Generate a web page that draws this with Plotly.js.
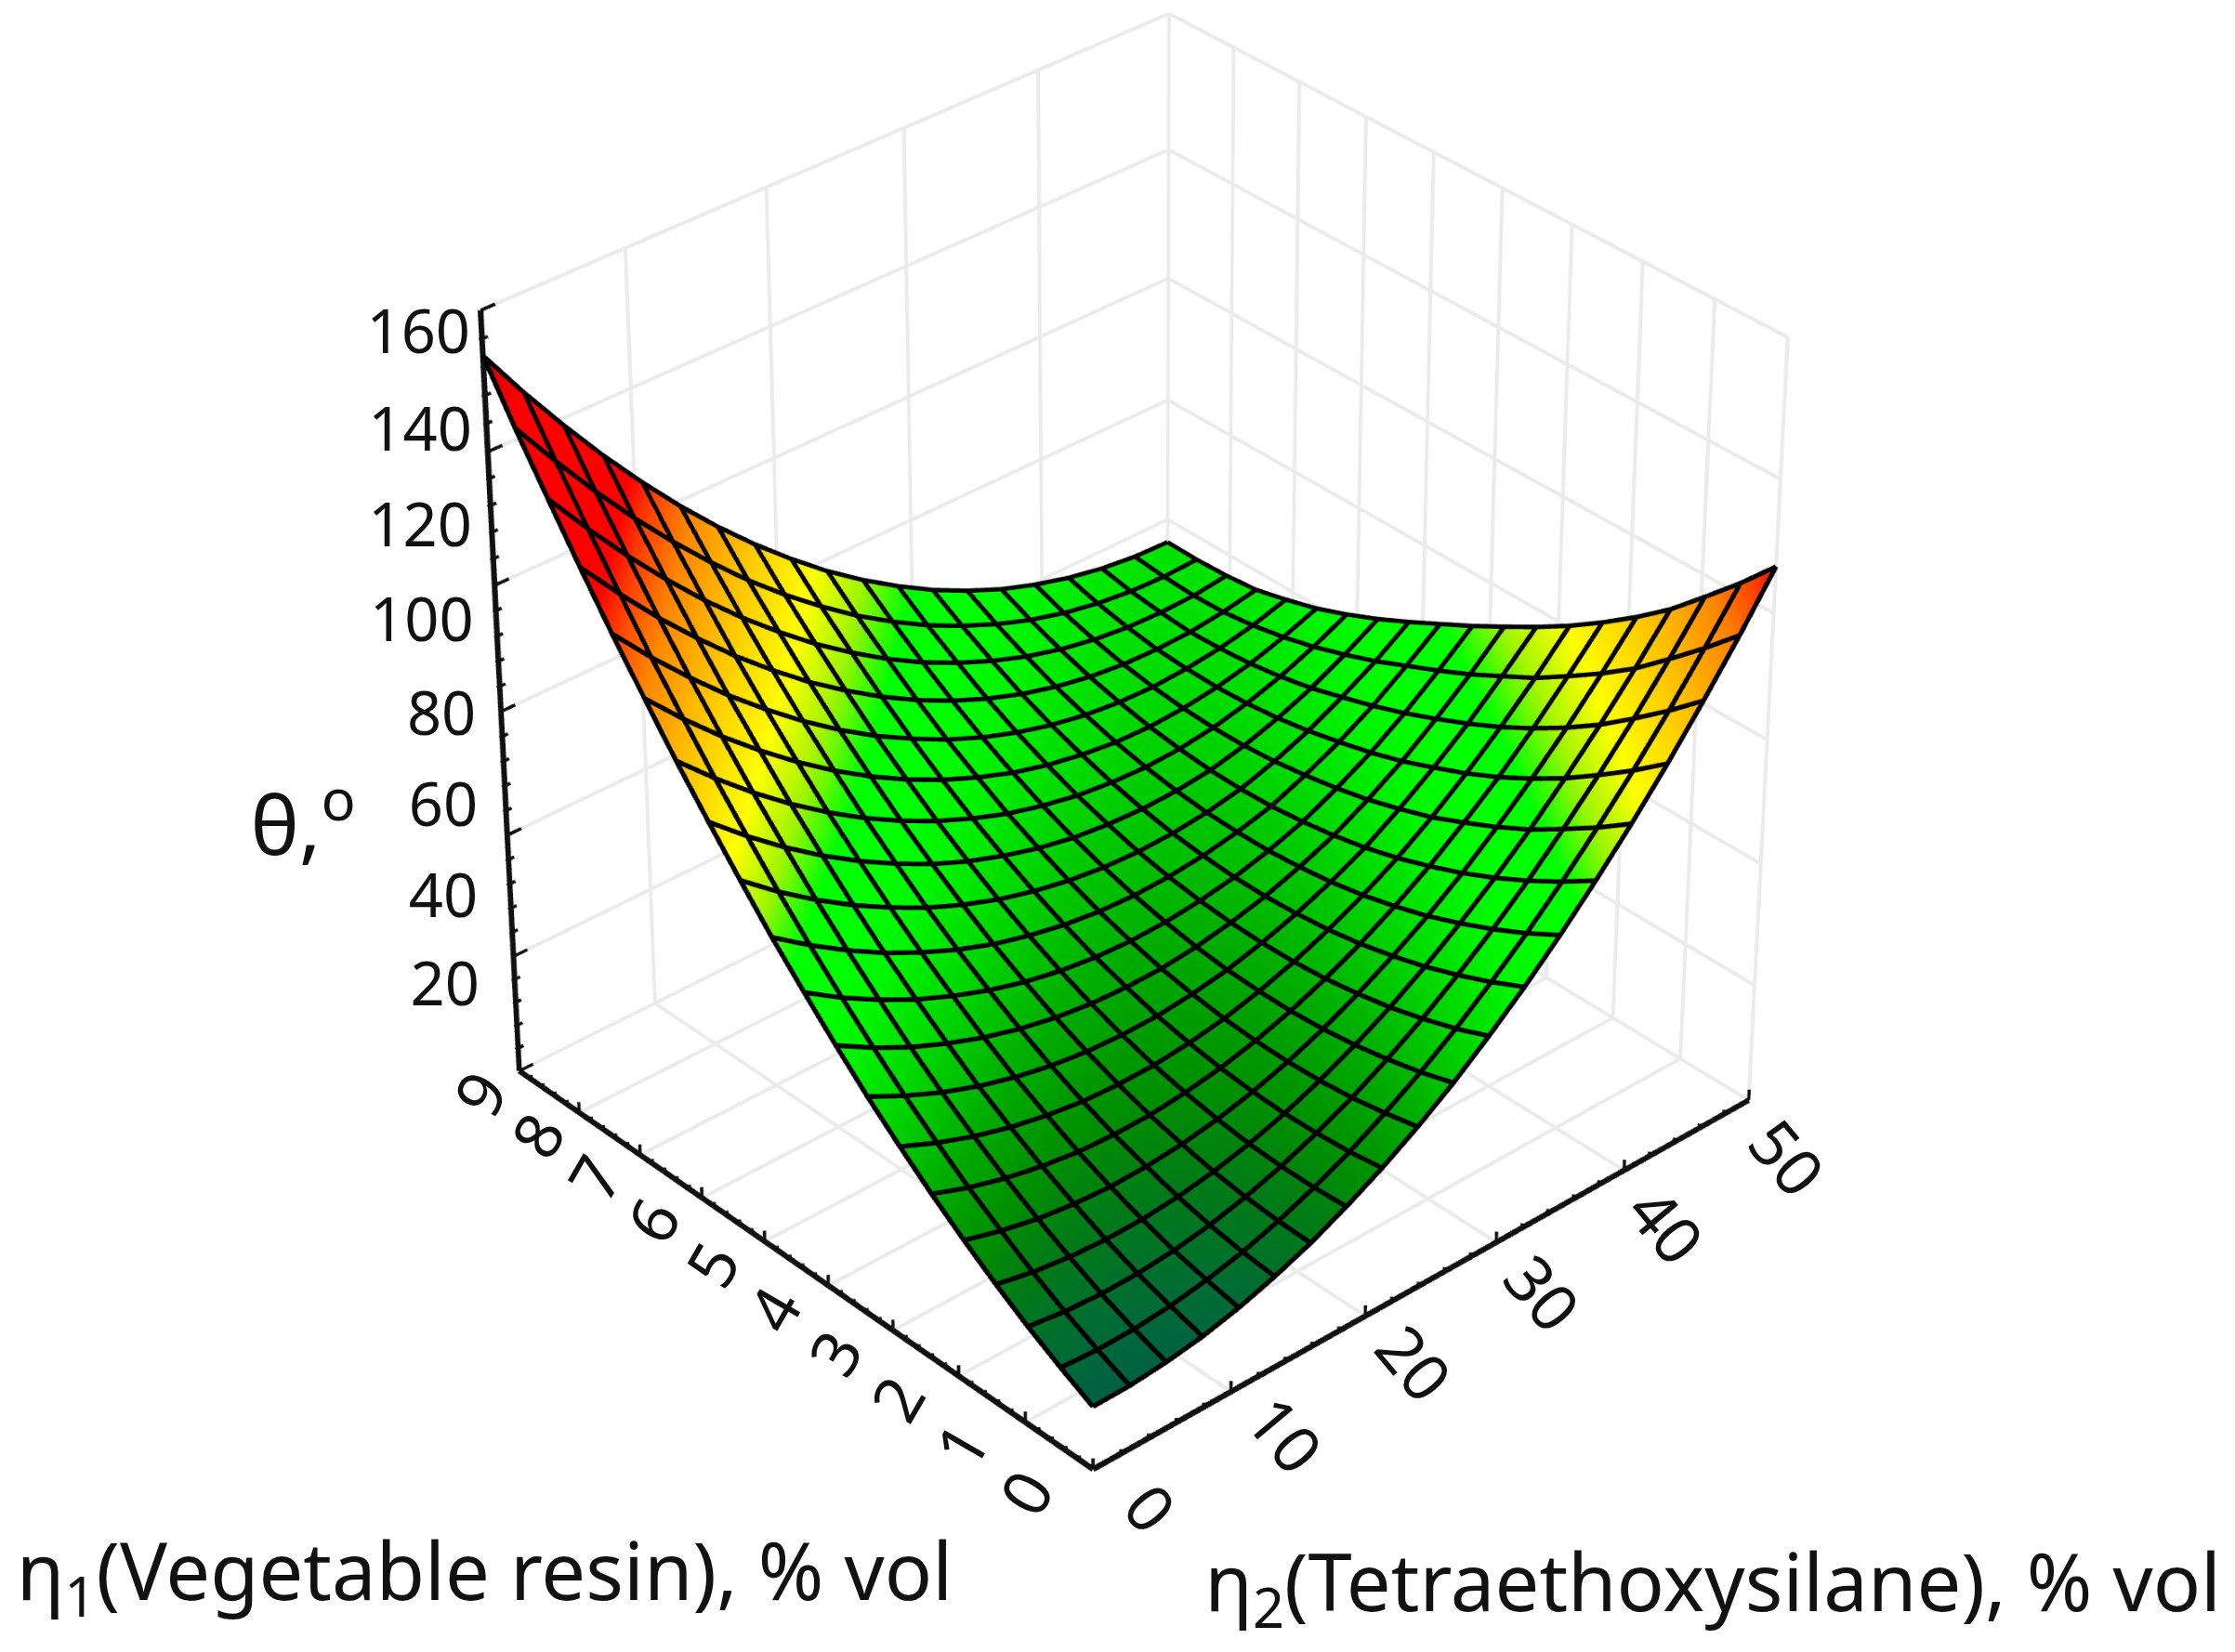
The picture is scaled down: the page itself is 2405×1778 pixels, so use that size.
<!DOCTYPE html>
<html><head><meta charset="utf-8">
<script src="https://cdn.plot.ly/plotly-3.0.1.min.js"></script>
<style>html,body{margin:0;padding:0;background:#fff;width:2405px;height:1778px;overflow:hidden}
#chart{position:absolute;transform-origin:0 0}</style></head>
<body><div id="chart"></div>
<script>
const eta2Nodes=[0,2.63,5.26,7.89,10.53,13.16,15.79,18.42,21.05,23.68,26.32,28.95,31.58,34.21,36.84,39.47,42.11,44.74,47.37,50];
const eta1Nodes=[0,0.47,0.95,1.42,1.89,2.37,2.84,3.32,3.79,4.26,4.74,5.21,5.68,6.16,6.63,7.11,7.58,8.05,8.53,9];
const thetaRows=[
[12.0,12.1,12.8,14.0,15.9,18.4,21.4,25.1,29.3,34.1,39.5,45.6,52.2,59.4,67.2,75.5,84.5,94.1,104.2,115.0],
[15.7,15.2,15.3,16.0,17.3,19.1,21.6,24.7,28.3,32.6,37.4,42.8,48.9,55.5,62.7,70.5,78.9,87.9,97.5,107.6],
[19.8,18.7,18.2,18.3,19.0,20.3,22.2,24.7,27.8,31.4,35.7,40.5,46.0,52.0,58.6,65.9,73.7,82.1,91.1,100.7],
[24.3,22.6,21.6,21.1,21.2,21.9,23.2,25.1,27.6,30.7,34.4,38.6,43.5,49.0,55.0,61.6,68.9,76.7,85.1,94.1],
[29.2,27.0,25.3,24.3,23.8,24.0,24.7,26.0,27.9,30.4,33.5,37.2,41.5,46.3,51.8,58.0,64.7,72.0,80.0,88.5],
[34.6,31.7,29.5,27.9,26.8,26.4,26.5,27.3,28.6,30.5,33.0,36.1,39.8,44.1,49.0,54.7,60.8,67.7,75.3,83.3],
[40.3,36.9,34.1,31.9,30.3,29.2,28.8,28.9,29.7,31.0,33.0,35.5,38.6,42.3,46.6,51.7,57.5,63.9,70.9,78.6],
[46.5,42.5,39.1,36.3,34.1,32.5,31.5,31.1,31.2,32.0,33.3,35.3,37.8,40.9,44.6,49.3,54.6,60.5,67.2,74.3],
[53.1,48.5,44.5,41.2,38.4,36.2,34.6,33.6,33.2,33.3,34.1,35.5,37.4,40.0,43.1,47.2,51.9,57.5,63.6,70.4],
[60.1,54.9,50.4,46.4,43.1,40.3,38.1,36.5,35.5,35.1,35.3,36.1,37.4,39.4,42.0,45.6,49.7,54.7,60.4,66.6],
[67.5,61.8,56.7,52.1,48.2,44.8,42.0,39.9,38.3,37.3,36.9,37.1,37.9,39.3,41.2,44.3,47.9,52.2,57.4,63.0],
[75.4,69.0,63.3,58.2,53.7,49.7,46.4,43.6,41.5,39.9,38.9,38.5,38.7,39.5,40.9,43.3,46.3,50.1,54.4,59.5],
[83.6,76.7,70.4,64.7,59.6,55.1,51.1,47.8,45.1,42.9,41.3,40.4,40.0,40.2,41.0,42.7,45.1,48.1,51.9,56.2],
[92.3,84.8,77.9,71.6,65.9,60.8,56.3,52.4,49.1,46.3,44.2,42.6,41.7,41.3,41.6,42.6,44.3,46.6,49.6,53.2],
[101.4,93.3,85.8,79.0,72.7,67.0,61.9,57.4,53.5,50.2,47.4,45.3,43.8,42.8,42.5,42.9,43.9,45.5,47.8,50.6],
[110.9,102.2,94.2,86.7,79.9,73.6,67.9,62.8,58.4,54.4,51.1,48.4,46.3,44.8,43.9,43.6,44.0,44.9,46.4,48.6],
[120.8,111.6,102.9,94.9,87.4,80.6,74.3,68.7,63.6,59.1,55.2,51.9,49.2,47.1,45.6,44.7,44.4,44.6,45.5,46.9],
[131.1,121.3,112.1,103.5,95.4,88.0,81.2,74.9,69.3,64.2,59.7,55.9,52.6,49.9,47.8,46.3,45.4,45.1,45.3,46.2],
[141.8,131.5,121.7,112.5,103.9,95.9,88.4,81.6,75.4,69.7,64.7,60.2,56.4,53.1,50.4,48.3,46.8,45.9,45.6,45.9],
[153.0,142.0,131.7,121.9,112.7,104.1,96.1,88.7,81.9,75.6,70.0,65.0,60.5,56.7,53.4,50.8,48.7,47.2,46.3,46.0]];

const eta2Ticks=[0,10,20,30,40,50];
const eta1Ticks=[0,1,2,3,4,5,6,7,8,9];
const thetaTicks=[-1.8,24.2,51.2,78.2,105.2,133.2,162.2];
const thetaLabels=[20,40,60,80,100,120,140,160];
const minorParts=5;

const colorLevels=[12,16,22,28,34,38,44,50,56,63,70,78,90,102,110,116,142,155];
const colorValues=['#005f45','#006b35','#007a18','#009000','#00ac00','#00c000','#00dc00','#00f400','#00ff00','#00ff00','#a0f500','#ffff00','#ffc400','#ff8800','#ff4000','#ff0000','#ff0000','#c80000'];

const thetaFloor=-1.8, thetaTop=162.2, eta2Max=50, eta1Max=9;
const zoom=1.811, centerX=1219, centerY=771;
const plotW=Math.round(2405/zoom), plotH=4000;
const offX=centerX-plotW*zoom/2, offY=centerY-plotH*zoom/2;
const box=document.getElementById('chart');
box.style.left=offX+'px';box.style.top=offY+'px';box.style.transform='scale('+zoom+')';
const paperX=px=>(px-offX)/(plotW*zoom);
const paperY=py=>1-(py-offY)/(plotH*zoom);
const aspectBox=[1.05,1.03,1.055];
const eye=[-5.29,-5.85,5.16];
const margin=1.4;
const pxUnit=1/930;

const lows=[0,0,thetaFloor];
const spans=[eta2Max,eta1Max,thetaTop-thetaFloor];
const toBox=p=>p.map((v,i)=>(v-lows[i]-spans[i]/2)*aspectBox[i]/spans[i]);
const fromBox=b=>b.map((v,i)=>v*spans[i]/aspectBox[i]+spans[i]/2+lows[i]);
const sub=(a,b)=>a.map((v,i)=>v-b[i]);
const unit=a=>{const n=Math.hypot(...a)||1;return a.map(v=>v/n);};
const cross=(a,b)=>[a[1]*b[2]-a[2]*b[1],a[2]*b[0]-a[0]*b[2],a[0]*b[1]-a[1]*b[0]];

function ribbonMesh(lines,widthPx,color,lift){
  const m={x:[],y:[],z:[],i:[],j:[],k:[]};
  const hw=widthPx*pxUnit/2;
  lines.forEach(line=>{
    const pts=line.map(toBox);
    const base=m.x.length;
    pts.forEach((p,n)=>{
      const t=unit(sub(pts[Math.min(n+1,pts.length-1)],pts[Math.max(n-1,0)]));
      const v=unit(sub(eye,p));
      const nrm=unit(cross(t,v));
      [1,-1].forEach(s=>{
        const q=fromBox(p.map((c,a)=>c+s*hw*nrm[a]+lift*v[a]));
        m.x.push(q[0]);m.y.push(q[1]);m.z.push(q[2]);
      });
      if(n<pts.length-1){
        const a=base+2*n;
        m.i.push(a,a+1);m.j.push(a+1,a+3);m.k.push(a+2,a+2);
      }
    });
  });
  return {type:'mesh3d',x:m.x,y:m.y,z:m.z,i:m.i,j:m.j,k:m.k,color:color,flatshading:true,hoverinfo:'skip',showscale:false,
    lighting:{ambient:1,diffuse:0,specular:0,fresnel:0,roughness:1}};
}
function minors(t){const o=[];for(let i=0;i<t.length-1;i++)for(let k=1;k<minorParts;k++)o.push(t[i]+(t[i+1]-t[i])*k/minorParts);return o;}

const meshLines=[];
eta1Nodes.forEach((y,r)=>meshLines.push(eta2Nodes.map((x,c)=>[x,y,thetaRows[r][c]])));
eta2Nodes.forEach((x,c)=>meshLines.push(eta1Nodes.map((y,r)=>[x,y,thetaRows[r][c]])));

const gridLines=[];
eta2Ticks.forEach(x=>{gridLines.push([[x,0,thetaFloor],[x,eta1Max,thetaFloor]]);gridLines.push([[x,eta1Max,thetaFloor],[x,eta1Max,thetaTop]]);});
eta1Ticks.forEach(y=>{gridLines.push([[0,y,thetaFloor],[eta2Max,y,thetaFloor]]);gridLines.push([[eta2Max,y,thetaFloor],[eta2Max,y,thetaTop]]);});
thetaTicks.forEach(z=>{gridLines.push([[0,eta1Max,z],[eta2Max,eta1Max,z]]);gridLines.push([[eta2Max,0,z],[eta2Max,eta1Max,z]]);});

const axisLines=[[[0,0,thetaFloor],[eta2Max,0,thetaFloor]],[[0,0,thetaFloor],[0,eta1Max,thetaFloor]],[[0,eta1Max,thetaFloor],[0,eta1Max,thetaTop]]];
const tickLines=[];
eta2Ticks.forEach(v=>tickLines.push([[v,0,thetaFloor],[v,0,thetaFloor+2.4]]));
minors(eta2Ticks).forEach(v=>tickLines.push([[v,0,thetaFloor-0.4],[v,0,thetaFloor+1.0]]));
eta1Ticks.forEach(v=>tickLines.push([[0,v,thetaFloor],[0,v,thetaFloor+2.4]]));
minors(eta1Ticks).forEach(v=>tickLines.push([[0,v,thetaFloor-0.4],[0,v,thetaFloor+1.0]]));
thetaTicks.forEach(v=>tickLines.push([[0,eta1Max,v],[1.0,eta1Max,v]]));
minors(thetaTicks).forEach(v=>tickLines.push([[-0.2,eta1Max,v],[0.4,eta1Max,v]]));

const fontFam='"Noto Sans","Open Sans",sans-serif';
const textFont=size=>({family:fontFam,size:size/zoom,color:'#111'});
const sceneNotes=[];
thetaLabels.forEach(v=>sceneNotes.push({x:0,y:eta1Max,z:v,text:String(v),showarrow:false,xanchor:'right',xshift:(-34+26*(v-20)/140)/zoom,yshift:-9/zoom,font:textFont(65)}));
eta1Ticks.forEach(v=>sceneNotes.push({x:0,y:v,z:thetaFloor,text:String(v),showarrow:false,textangle:-60,xshift:(-73+3.33*v)/zoom,yshift:-24/zoom,font:textFont(70)}));
eta2Ticks.forEach(v=>sceneNotes.push({x:v,y:0,z:thetaFloor,text:String(v),showarrow:false,textangle:50,xshift:(62-0.4*v)/zoom,yshift:(-41-0.42*v)/zoom,font:textFont(70)}));

const colorScale=[[0,colorValues[0]]].concat(colorLevels.map((l,i)=>[(l-thetaFloor)/(thetaTop-thetaFloor),colorValues[i]]),[[1,colorValues[colorValues.length-1]]]);

const data=[
{type:'surface',x:eta2Nodes,y:eta1Nodes,z:thetaRows,showscale:false,hoverinfo:'skip',
 cmin:thetaFloor,cmax:thetaTop,colorscale:colorScale,
 lighting:{ambient:1,diffuse:0,specular:0,fresnel:0,roughness:1},
 contours:{x:{highlight:false},y:{highlight:false},z:{highlight:false}}},
ribbonMesh(gridLines,4,'#ebebeb',0),
ribbonMesh(axisLines,6,'#111111',0.002),
ribbonMesh(tickLines,3.5,'#111111',0.002),
ribbonMesh(meshLines,5,'#000000',0.006)
];

const pad=(lo,s)=>[lo+s/2-s*margin/2,lo+s/2+s*margin/2];
const hiddenAxis=(lo,s)=>({visible:false,range:pad(lo,s),showspikes:false});
const layout={width:plotW,height:plotH,margin:{l:0,r:0,t:0,b:0},paper_bgcolor:'rgba(0,0,0,0)',showlegend:false,
 scene:{domain:{x:[0,1],y:[0,1]},
  xaxis:hiddenAxis(0,eta2Max),yaxis:hiddenAxis(0,eta1Max),zaxis:hiddenAxis(thetaFloor,thetaTop-thetaFloor),
  aspectmode:'manual',aspectratio:{x:aspectBox[0]*margin,y:aspectBox[1]*margin,z:aspectBox[2]*margin},
  camera:{eye:{x:eye[0],y:eye[1],z:eye[2]},center:{x:0,y:0,z:0},up:{x:0,y:0,z:1},projection:{type:'perspective'}},
  annotations:sceneNotes},
 annotations:[
  {xref:'paper',yref:'paper',x:paperX(327),y:paperY(881),xanchor:'center',yanchor:'middle',text:'θ,<sup>o</sup>',showarrow:false,font:textFont(88)},
  {xref:'paper',yref:'paper',x:paperX(14),xanchor:'left',y:paperY(1695),yanchor:'middle',text:'η<sub>1</sub>(Vegetable resin), % vol',showarrow:false,font:textFont(85)},
  {xref:'paper',yref:'paper',x:paperX(1294),xanchor:'left',y:paperY(1708),yanchor:'middle',text:'η<sub>2</sub>(Tetraethoxysilane), % vol',showarrow:false,font:textFont(85)}
 ]};
Plotly.newPlot('chart',data,layout,{displayModeBar:false});
</script></body></html>
